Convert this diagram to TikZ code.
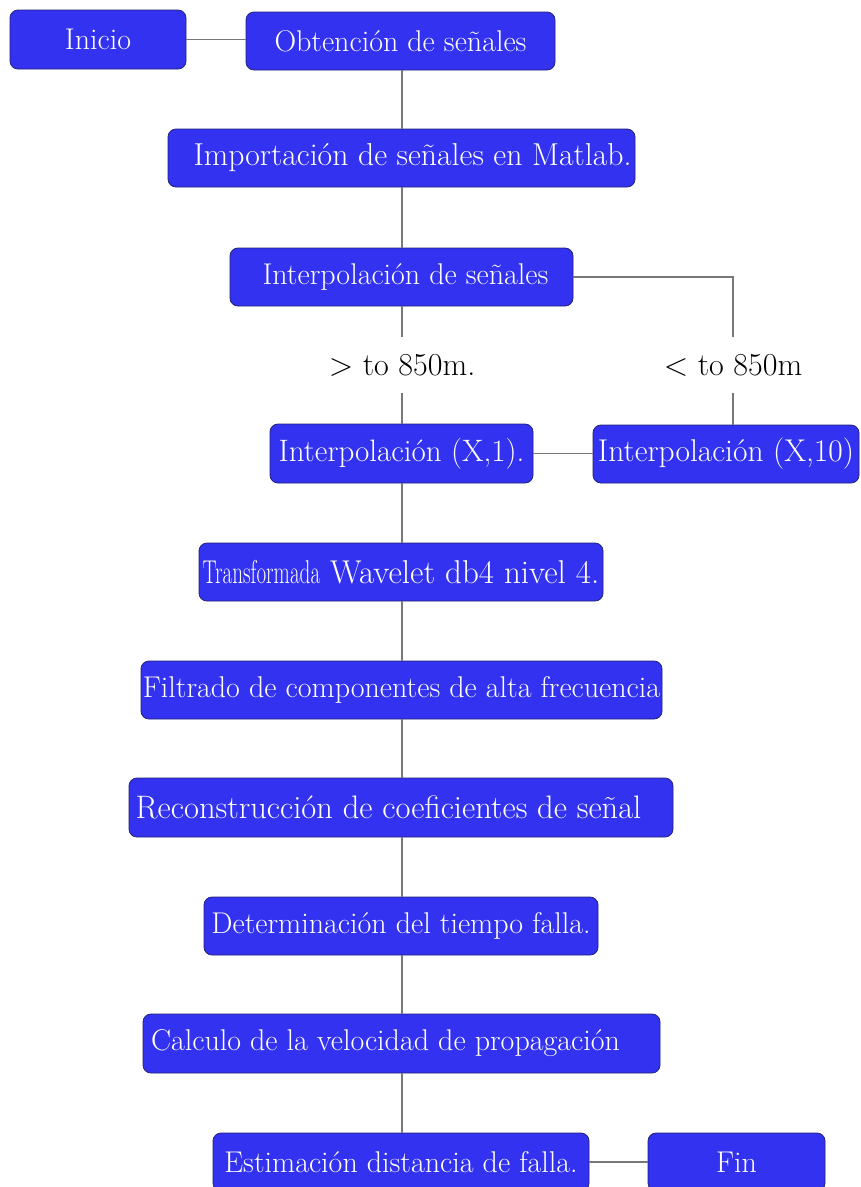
\documentclass[tikz,border=0pt]{standalone}
\usepackage{graphicx}
\definecolor{boxblue}{RGB}{50,50,240}
\definecolor{boxedge}{RGB}{35,35,120}
\definecolor{linegray}{RGB}{120,120,120}
\newcommand{\fsz}[1]{\fontsize{#1}{#1}\selectfont}
\tikzset{
  fbox/.style={rectangle, rounded corners=8pt, fill=boxblue, draw=boxedge, line width=0.8pt,
    text=white, inner sep=0pt, font=\fsz{30}},
  lbl/.style={inner sep=0pt, minimum height=56pt, font=\fsz{32}},
  conn/.style={draw=linegray, line width=1.2pt}
}
\begin{document}
\begin{tikzpicture}[x=1pt,y=-1pt]
\useasboundingbox (0,0) rectangle (861,1187);
\node[fbox, minimum width=176pt, minimum height=59pt] (ini) at (98,39.5) {Inicio};
\node[fbox, minimum width=309pt, minimum height=58pt] (obt) at (400.5,41) {Obtención de señales};
\node[fbox, minimum width=467pt, minimum height=58pt, font=\fsz{31.7}] (imp) at (401.5,158) {\hspace*{22pt}Importación de señales en Matlab.};
\node[fbox, minimum width=343pt, minimum height=58pt] (int) at (401.5,277) {\hspace*{8pt}Interpolación de señales};
\node[lbl] (gt) at (402,365) {> to 850m.};
\node[lbl] (lt) at (733,365) {< to 850m};
\node[fbox, minimum width=263pt, minimum height=59pt, font=\fsz{31}] (x1) at (401.5,453.5) {Interpolación (X,1).};
\node[fbox, minimum width=266pt, minimum height=58pt, font=\fsz{31.5}] (x10) at (726,454) {Interpolación (X,10)};
\node[fbox, minimum width=404pt, minimum height=58pt, font=\fsz{33}] (tw) at (401,572) {\scalebox{0.64}[1]{Transformada} Wavelet db4 nivel 4.};
\node[fbox, minimum width=521pt, minimum height=58pt] (fil) at (401.5,690) {Filtrado de componentes de alta frecuencia};
\node[fbox, minimum width=544pt, minimum height=59pt, font=\fsz{32.5}] (rec) at (401,807.5) {\hspace*{-25pt}Reconstrucción de coeficientes de señal};
\node[fbox, minimum width=394pt, minimum height=58pt] (det) at (401,926) {Determinación del tiempo falla.};
\node[fbox, minimum width=517pt, minimum height=59pt] (cal) at (401.5,1043.5) {\hspace*{-32pt}Calculo de la velocidad de propagación};
\node[fbox, minimum width=376pt, minimum height=58pt] (est) at (401,1162) {Estimación distancia de falla.};
\node[fbox, minimum width=177pt, minimum height=58pt] (fin) at (736.5,1162) {Fin};
\draw[conn] (ini.east) -- (ini.east -| obt.west);
\draw[conn] (gt.north |- obt.south) -- (gt.north |- imp.north);
\draw[conn] (gt.north |- imp.south) -- (gt.north |- int.north);
\draw[conn] (gt.north |- int.south) -- (gt.north);
\draw[conn] (int.east) -| (lt.north);
\draw[conn] (gt.south) -- (gt.south |- x1.north);
\draw[conn] (lt.south) -- (lt.south |- x10.north);
\draw[conn] (x1.east) -- (x1.east -| x10.west);
\draw[conn] (gt.north |- x1.south) -- (gt.north |- tw.north);
\draw[conn] (gt.north |- tw.south) -- (gt.north |- fil.north);
\draw[conn] (gt.north |- fil.south) -- (gt.north |- rec.north);
\draw[conn] (gt.north |- rec.south) -- (gt.north |- det.north);
\draw[conn] (gt.north |- det.south) -- (gt.north |- cal.north);
\draw[conn] (gt.north |- cal.south) -- (gt.north |- est.north);
\draw[conn] (est.east) -- (est.east -| fin.west);
\end{tikzpicture}
\end{document}
